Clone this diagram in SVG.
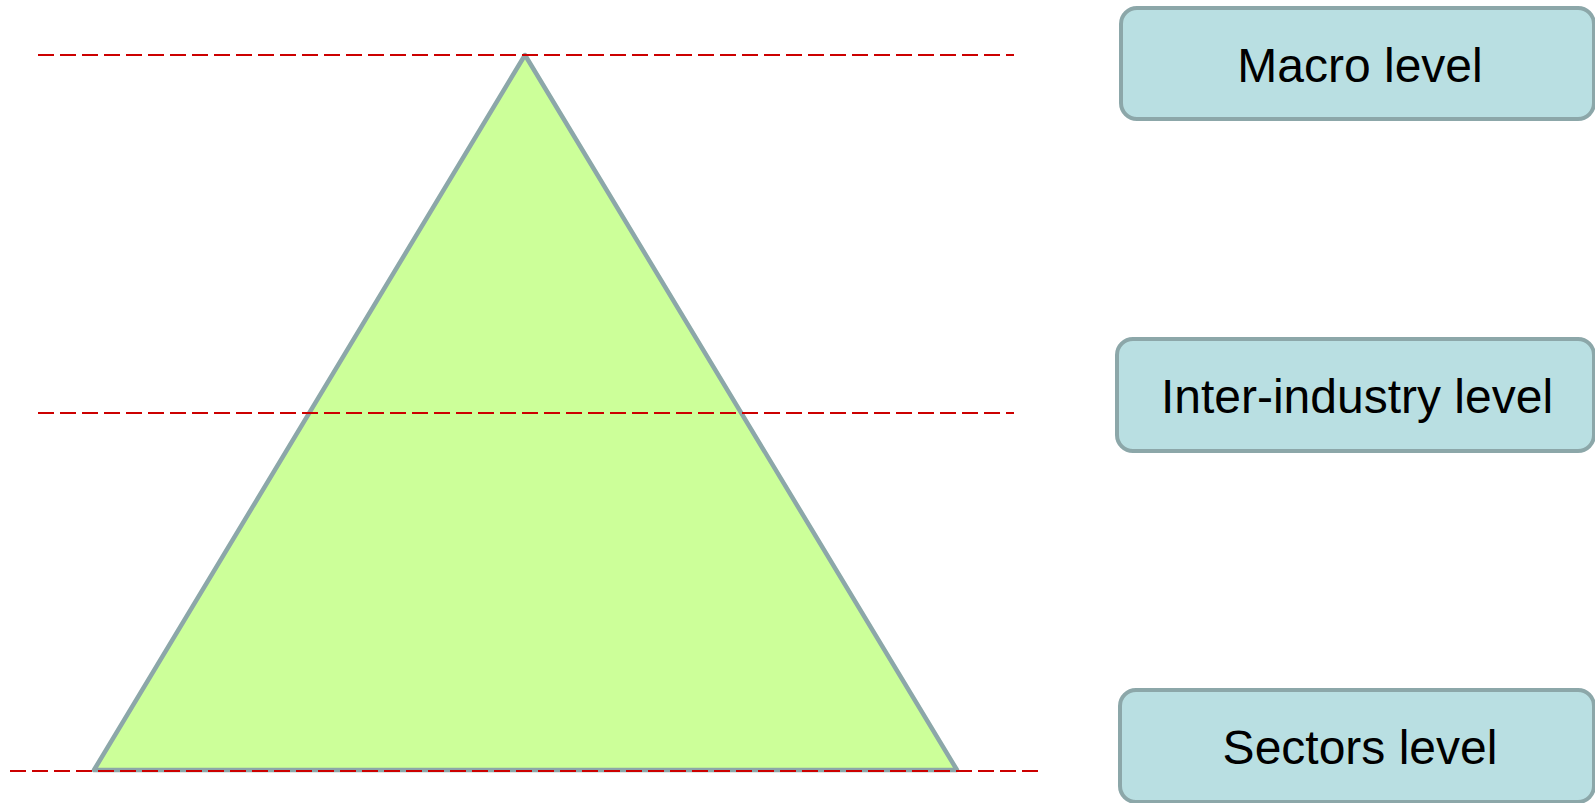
<svg xmlns="http://www.w3.org/2000/svg" width="1595" height="803" viewBox="0 0 1595 803">
<style>
.guide{stroke:#cc0000;stroke-width:2;stroke-dasharray:16 6;fill:none}
.box{fill:#b9dfe2;stroke:#8ca7a9;stroke-width:4}
.lbl{font-family:"Liberation Sans",Arial,sans-serif;font-size:48px;fill:#000;text-anchor:middle}
</style>
<rect width="1595" height="803" fill="#fff"/>
<g id="pyramid">
<polygon points="525,55 94,770 957,770" fill="#ccff99" stroke="#8ca7a9" stroke-width="4.5" stroke-linejoin="round"/>
</g>
<g id="connectors">
<line class="guide" x1="38" y1="55" x2="1014" y2="55"/>
<line class="guide" x1="38" y1="413" x2="1014" y2="413"/>
<line class="guide" x1="10" y1="771" x2="1038" y2="771"/>
</g>
<g id="macro">
<rect class="box" x="1121" y="8" width="473" height="111" rx="16"/>
<text class="lbl" x="1360" y="82">Macro level</text>
</g>
<g id="inter">
<rect class="box" x="1117" y="339" width="477" height="112" rx="16"/>
<text class="lbl" x="1357" y="413">Inter-industry level</text>
</g>
<g id="sectors">
<rect class="box" x="1120" y="690" width="474" height="112" rx="16"/>
<text class="lbl" x="1360" y="764">Sectors level</text>
</g>
</svg>
